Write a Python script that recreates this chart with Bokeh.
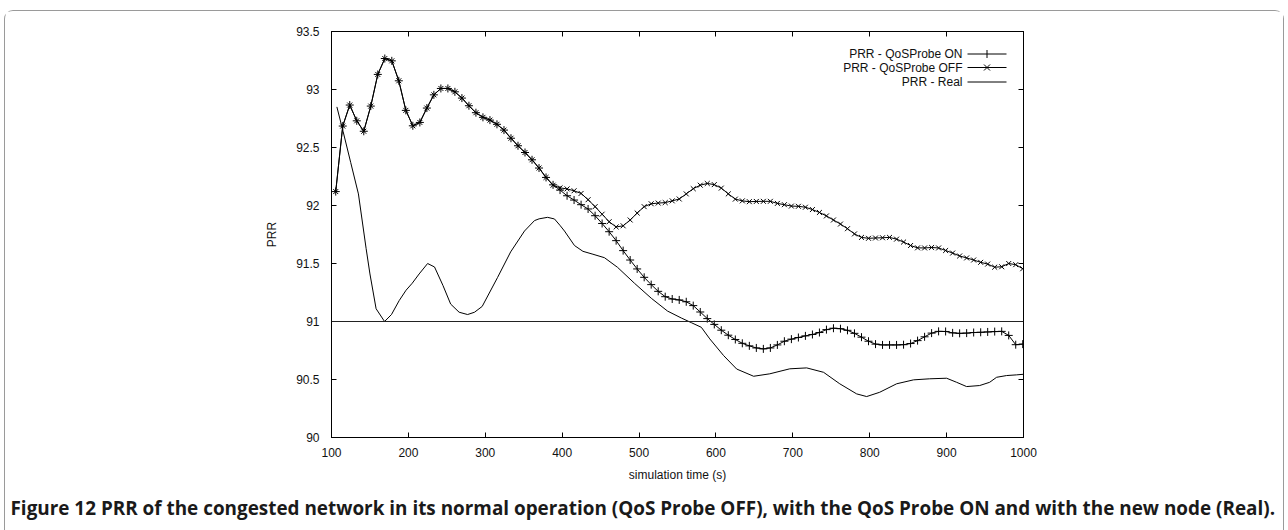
import numpy as np
from bokeh.plotting import figure
from bokeh.models import FixedTicker, LinearAxis, Label, Arrow, Range1d, Span, Title
from bokeh.embed import file_html
from bokeh.resources import INLINE

# ---------------- data ----------------
# sampling instants of the PRR estimates (s)
time_s = [round(v, 2) for v in np.linspace(105.5, 999.0, 99)]

prr_on = [92.12, 92.685, 92.866, 92.73, 92.64, 92.857, 93.13, 93.267, 93.247, 93.075,
          92.82, 92.687, 92.716, 92.84, 92.954, 93.009, 93.009, 92.98, 92.926, 92.86,
          92.80, 92.76, 92.736, 92.70, 92.65, 92.58, 92.515, 92.457, 92.394, 92.323,
          92.242, 92.178, 92.133, 92.084, 92.047, 92.007, 91.97, 91.912, 91.845, 91.774,
          91.697, 91.611, 91.53, 91.453, 91.381, 91.318, 91.26, 91.214, 91.194, 91.186,
          91.17, 91.137, 91.082, 91.025, 90.975, 90.925, 90.882, 90.845, 90.812, 90.79,
          90.772, 90.764, 90.772, 90.798, 90.83, 90.848, 90.862, 90.876, 90.888, 90.905,
          90.93, 90.942, 90.938, 90.924, 90.898, 90.865, 90.83, 90.805, 90.798, 90.798,
          90.798, 90.80, 90.81, 90.835, 90.868, 90.90, 90.915, 90.914, 90.902, 90.898,
          90.90, 90.905, 90.907, 90.91, 90.913, 90.915, 90.88, 90.80, 90.805]

prr_off = [92.12, 92.685, 92.866, 92.73, 92.64, 92.857, 93.13, 93.267, 93.247, 93.075,
           92.82, 92.687, 92.716, 92.84, 92.954, 93.009, 93.009, 92.98, 92.926, 92.86,
           92.80, 92.76, 92.736, 92.70, 92.65, 92.58, 92.515, 92.457, 92.394, 92.323,
           92.242, 92.175, 92.152, 92.143, 92.127, 92.104, 92.05, 91.99, 91.925, 91.86,
           91.815, 91.825, 91.875, 91.935, 91.99, 92.015, 92.021, 92.025, 92.04, 92.056,
           92.10, 92.145, 92.175, 92.19, 92.18, 92.15, 92.10, 92.055, 92.04, 92.033,
           92.035, 92.036, 92.036, 92.018, 92.007, 91.995, 91.993, 91.985, 91.965, 91.94,
           91.91, 91.875, 91.84, 91.80, 91.755, 91.725, 91.717, 91.72, 91.722, 91.725,
           91.71, 91.685, 91.655, 91.635, 91.634, 91.638, 91.634, 91.612, 91.59, 91.565,
           91.548, 91.53, 91.51, 91.495, 91.468, 91.472, 91.50, 91.49, 91.455]

real_time = [107, 115, 125, 135, 145, 150, 158, 169, 178, 188, 197, 205, 214, 225, 234,
             245, 255, 266, 277, 286, 296, 316, 333, 351, 364, 370, 381, 390, 397, 403,
             416, 427, 440, 455, 472, 494, 516, 537, 555, 568, 581, 592, 610, 627, 649,
             670, 696, 718, 740, 761, 783, 796, 813, 835, 857, 878, 900, 913, 926, 943,
             956, 965, 978, 991, 1000]
real_prr = [92.85, 92.64, 92.37, 92.10, 91.63, 91.41, 91.11, 91.00, 91.06, 91.18,
            91.27, 91.33, 91.41, 91.50, 91.47, 91.31, 91.15, 91.08, 91.06, 91.08,
            91.13, 91.38, 91.60, 91.78, 91.87, 91.885, 91.898, 91.884, 91.83, 91.78,
            91.655, 91.605, 91.58, 91.55, 91.467, 91.33, 91.20, 91.09, 91.03, 90.99,
            90.95, 90.85, 90.706, 90.59, 90.528, 90.549, 90.592, 90.60, 90.562, 90.463,
            90.376, 90.353, 90.39, 90.463, 90.497, 90.506, 90.511, 90.476, 90.439, 90.448,
            90.476, 90.519, 90.534, 90.54, 90.545]

reference_prr = 91.0

x_ticks = [100, 200, 300, 400, 500, 600, 700, 800, 900, 1000]
y_ticks = [90, 90.5, 91, 91.5, 92, 92.5, 93, 93.5]
y_tick_labels = ["90", "90.5", "91", "91.5", "92", "92.5", "93", "93.5"]
legend_labels = ["PRR - QoSProbe ON", "PRR - QoSProbe OFF", "PRR - Real"]
x_title = "simulation time (s)"
y_title = "PRR"
caption = ("Figure 12 PRR of the congested network in its normal operation (QoS Probe OFF), "
           "with the QoS Probe ON and with the new node (Real).")

# ---------------- figure ----------------
FONT = "Liberation Sans"
W, H = 1278, 519
FW, FH = 692, 406
ML, MT = 326, 20
MB = H - MT - FH
MR = W - ML - FW

p = figure(width=W, height=H, frame_width=FW, frame_height=FH,
           x_range=Range1d(100, 1000), y_range=Range1d(90, 93.5),
           output_backend="svg", toolbar_location=None,
           min_border_left=ML, min_border_right=MR,
           min_border_top=MT, min_border_bottom=MB)
p.styles = {"margin-left": "4px", "margin-top": "10px",
            "border-top": "1px solid #9a9a9a", "border-left": "1px solid #9a9a9a",
            "border-right": "1px solid #9a9a9a", "border-top-left-radius": "9px",
            "border-top-right-radius": "9px"}
p.xgrid.visible = False
p.ygrid.visible = False
p.outline_line_color = "black"
p.outline_line_width = 1
p.background_fill_color = "white"
p.border_fill_color = "white"

def style_axis(ax, show_labels=True):
    ax.major_tick_in = 5
    ax.major_tick_out = 0
    ax.minor_tick_in = 0
    ax.minor_tick_out = 0
    ax.axis_line_color = "black"
    ax.major_tick_line_color = "black"
    ax.major_label_text_font = FONT
    if show_labels:
        ax.major_label_text_color = "#111111"
        ax.major_label_text_font_size = "12px"
    else:
        ax.major_label_text_color = None
        ax.major_label_text_font_size = "1px"

p.xaxis.ticker = FixedTicker(ticks=x_ticks)
p.yaxis.ticker = FixedTicker(ticks=y_ticks)
p.yaxis.major_label_overrides = {t: s for t, s in zip(y_ticks, y_tick_labels)}
style_axis(p.xaxis[0])
style_axis(p.yaxis[0])
p.xaxis.major_label_standoff = 10
p.yaxis.major_label_standoff = 12
p.xaxis.axis_label = x_title
p.yaxis.axis_label = y_title
for ax in (p.xaxis[0], p.yaxis[0]):
    ax.axis_label_text_font = FONT
    ax.axis_label_text_font_style = "normal"
    ax.axis_label_text_font_size = "12px"
    ax.axis_label_text_color = "#111111"
p.xaxis.axis_label_standoff = 8
p.yaxis.axis_label_standoff = 14

top_ax = LinearAxis(ticker=FixedTicker(ticks=x_ticks), major_label_standoff=0)
right_ax = LinearAxis(ticker=FixedTicker(ticks=y_ticks), major_label_standoff=0)
style_axis(top_ax, False)
style_axis(right_ax, False)
p.add_layout(top_ax, "above")
p.add_layout(right_ax, "right")

# ---------------- data marks ----------------
p.add_layout(Span(location=reference_prr, dimension="width", line_color="#222222", line_width=1.2))
p.line(real_time, real_prr, line_color="black", line_width=1)
p.line(time_s, prr_off, line_color="black", line_width=1)
p.scatter(time_s, prr_off, marker="x", size=7, line_color="black", line_width=1)
p.line(time_s, prr_on, line_color="black", line_width=1)
p.scatter(time_s, prr_on, marker="cross", size=8, line_color="black", line_width=1)

# ---------------- legend (gnuplot style: text then sample) ----------------
rows = [383.5, 370, 355.5]
tx, s0, s1, sm = 631, 636, 675, 655.5
for lab, ry in zip(legend_labels, rows):
    p.add_layout(Label(x=tx, y=ry, x_units="screen", y_units="screen", text=lab,
                       text_align="right", text_baseline="middle", text_font=FONT,
                       text_font_size="12px", text_color="#111111"))
    p.add_layout(Arrow(end=None, x_start=s0, y_start=ry, x_end=s1, y_end=ry,
                       start_units="screen", end_units="screen", line_color="black", line_width=1))
p.add_layout(Arrow(end=None, x_start=sm, y_start=rows[0] - 4, x_end=sm, y_end=rows[0] + 4,
                   start_units="screen", end_units="screen", line_color="black", line_width=1))
for dy in (-1, 1):
    p.add_layout(Arrow(end=None, x_start=sm - 3, y_start=rows[1] - 3 * dy, x_end=sm + 3,
                       y_end=rows[1] + 3 * dy, start_units="screen", end_units="screen",
                       line_color="black", line_width=1))

# ---------------- caption ----------------
p.add_layout(Title(text=caption, align="left", offset=-321, standoff=17,
                   text_font="Open Sans", text_font_style="bold",
                   text_font_size="18.9px", text_color="#1a1a1a"), "below")

open("out.html", "w").write(file_html(p, INLINE))
